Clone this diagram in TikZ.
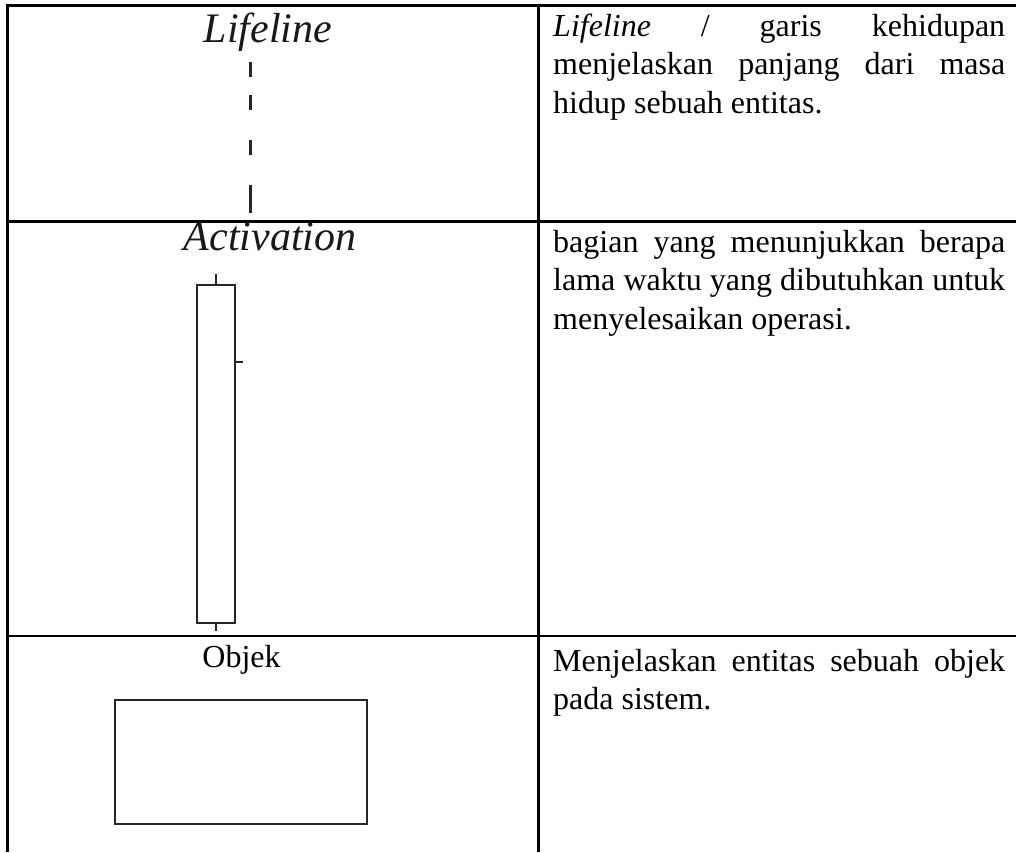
\documentclass[tikz,border=0pt]{standalone}
\usepackage{fontspec}
\setmainfont{Liberation Serif}
\begin{document}
\begin{tikzpicture}[x=1pt,y=-1pt,
  rule/.style={line width=2.6pt,black},
  body/.style={anchor=base west,inner sep=0pt,font=\fontsize{32}{38.6}\selectfont},
  biglabel/.style={anchor=base,inner sep=0pt,font=\fontsize{42}{48}\selectfont\itshape,text=black!90},
  smalllabel/.style={anchor=base,inner sep=0pt,font=\fontsize{32}{38}\selectfont},
  lifedash/.style={line width=3pt,black!85},
  umlbox/.style={draw=black!85,line width=2.4pt,inner sep=0pt,fill=white}]
\useasboundingbox (0,0) rectangle (1016,852);
\fill[white] (0,0) rectangle (1016,852);
% table rules
\draw[rule] (7.5,5.5) -- (1016,5.5);
\draw[rule] (7.5,221.5) -- (1016,221.5);
\draw[rule] (7.5,636) -- (1016,636);
\draw[rule] (7.5,4.2) -- (7.5,852);
\draw[line width=2.2pt] (538.5,5.5) -- (538.5,852);
% row 1: lifeline
\node[biglabel] (lifelbl) at (268,42) {Lifeline};
\draw[lifedash] (250,62) -- (250,77);
\draw[lifedash] (250,95) -- (250,110);
\draw[lifedash] (250,140) -- (250,155);
\draw[lifedash] (250,185) -- (250,213);
\node[body] (t1) at (553,36) {\parbox[t]{452pt}{\textit{Lifeline} / garis kehidupan\linebreak menjelaskan panjang dari masa\linebreak hidup sebuah entitas.}};
% row 2: activation
\node[biglabel] (actlbl) at (270,250) {Activation};
\node[umlbox,minimum width=38pt,minimum height=338pt] (act) at (216,454) {};
\draw[line width=2pt,black!85] (act.north) -- ++(0,-10);
\draw[line width=2pt,black!85] (act.south) -- ++(0,7);
\draw[line width=2pt,black!85] (act.north east) ++(0,78) -- ++(7,0);
\node[body] (t2) at (553,252) {\parbox[t]{452pt}{bagian yang menunjukkan berapa\linebreak lama waktu yang dibutuhkan untuk\linebreak menyelesaikan operasi.}};
% row 3: objek
\node[smalllabel] (objlbl) at (241.5,667) {Objek};
\node[umlbox,minimum width=252pt,minimum height=124pt] (obj) at (241,762) {};
\node[body] (t3) at (553,671) {\parbox[t]{452pt}{Menjelaskan entitas sebuah objek\linebreak pada sistem.}};
\end{tikzpicture}
\end{document}
